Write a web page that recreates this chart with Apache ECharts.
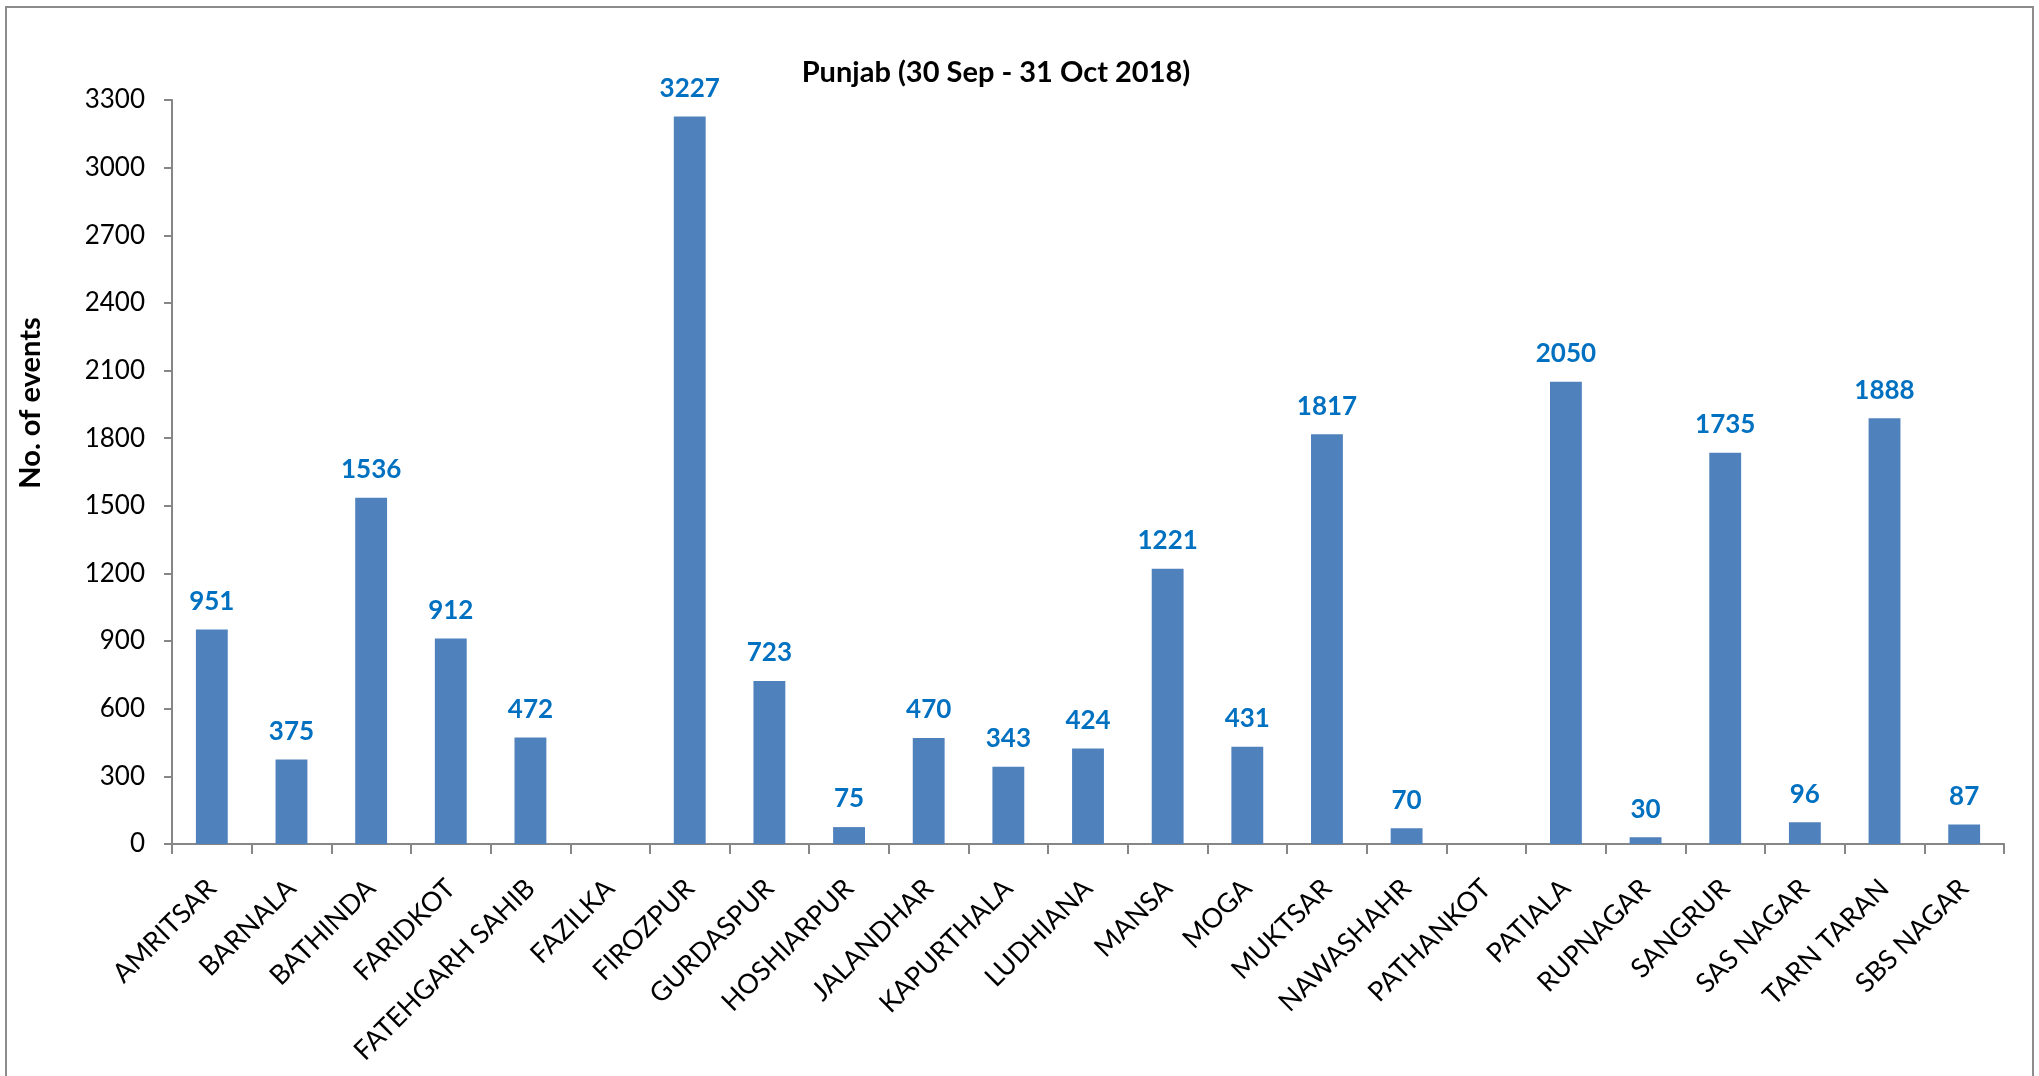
<!DOCTYPE html>
<html>
<head>
<meta charset="utf-8">
<script src="https://cdn.jsdelivr.net/npm/echarts@6/dist/echarts.min.js"></script>
<style>
html,body{margin:0;padding:0;background:#fff;}
#chart{width:2039px;height:1076px;}
</style>
</head>
<body>
<div id="chart"></div>
<script>
const categories = ["AMRITSAR","BARNALA","BATHINDA","FARIDKOT","FATEHGARH SAHIB","FAZILKA","FIROZPUR","GURDASPUR","HOSHIARPUR","JALANDHAR","KAPURTHALA","LUDHIANA","MANSA","MOGA","MUKTSAR","NAWASHAHR","PATHANKOT","PATIALA","RUPNAGAR","SANGRUR","SAS NAGAR","TARN TARAN","SBS NAGAR"];
const events = [951,375,1536,912,472,null,3227,723,75,470,343,424,1221,431,1817,70,null,2050,30,1735,96,1888,87];
const titleText = "Punjab (30 Sep - 31 Oct 2018)";
const yAxisTitle = "No. of events";

const FONT = "Lato, 'Open Sans', sans-serif";
const chart = echarts.init(document.getElementById('chart'));
chart.setOption({
  animation: false,
  backgroundColor: '#ffffff',
  title: {
    text: titleText,
    left: 991, top: 53, textAlign: 'center',
    textStyle: {fontFamily: FONT, fontWeight: 'bold', fontSize: 29, color: '#000'}
  },
  graphic: [
    {type: 'rect', shape: {x: 6, y: 7, width: 2027, height: 1100}, style: {fill: 'none', stroke: '#8c8c8c', lineWidth: 2}, silent: true, z: -1},
    {type: 'text', x: 31, y: 403, rotation: Math.PI/2,
     style: {text: yAxisTitle, fontFamily: FONT, fontWeight: 'bold', fontSize: 29, fill: '#000', align: 'center', verticalAlign: 'middle'}}
  ],
  grid: {left: 172, right: 35, top: 100, bottom: 232, containLabel: false},
  xAxis: {
    type: 'category', data: categories,
    axisLine: {lineStyle: {color: '#868686', width: 2}},
    axisTick: {show: true, length: 10, alignWithLabel: false, lineStyle: {color: '#868686', width: 2}},
    axisLabel: {rotate: 45, interval: 0, margin: 40, fontFamily: FONT, fontSize: 27, color: '#000'}
  },
  yAxis: {
    type: 'value', min: 0, max: 3300, interval: 300,
    splitLine: {show: false},
    axisLine: {show: true, lineStyle: {color: '#868686', width: 2}},
    axisTick: {show: true, length: 8, lineStyle: {color: '#868686', width: 2}},
    axisLabel: {margin: 27, fontFamily: FONT, fontSize: 26, color: '#000', formatter: v => String(v)}
  },
  series: [{
    type: 'bar', data: events, barWidth: '40%',
    itemStyle: {color: '#4F81BD'},
    label: {show: true, position: 'top', distance: 15, fontFamily: FONT, fontWeight: 'bold', fontSize: 26, color: '#0070C0'}
  }]
});
</script>
</body>
</html>
